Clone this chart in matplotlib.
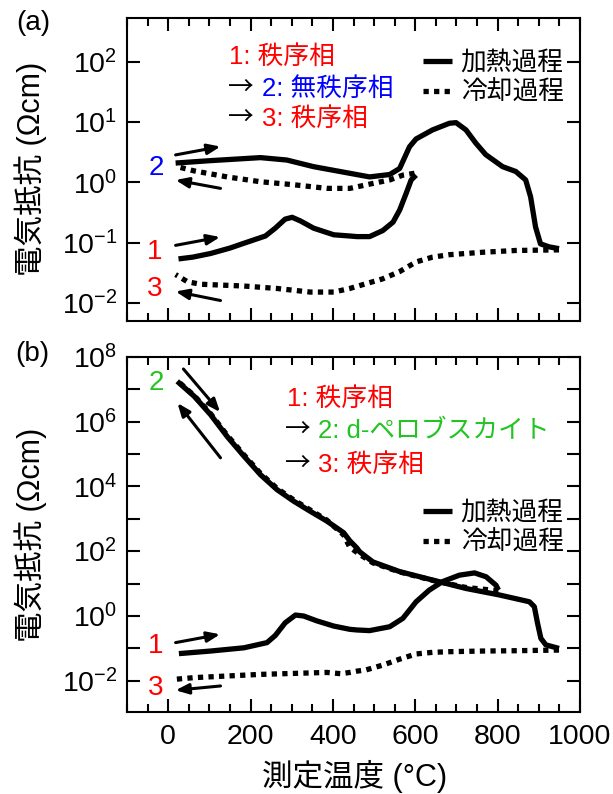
import numpy as np
import matplotlib
matplotlib.use("Agg")
import matplotlib.pyplot as plt
from matplotlib.ticker import MultipleLocator, FixedLocator, FixedFormatter, NullLocator

plt.rcParams['font.family'] = ['Liberation Sans', 'Noto Sans CJK JP']
plt.rcParams['axes.linewidth'] = 1.5

RED = '#FF0000'
BLUE = '#0000FF'
GREEN = '#22C422'

# ---- panel (a): temperature (°C) and log10 resistance (Ωcm) ----
a_heat1_T = [25, 60, 103, 150, 184, 236, 260, 284, 301, 321, 353, 402, 441, 458, 489, 521, 546, 562, 578, 590, 602]
a_heat1_logR = [-1.27, -1.24, -1.18, -1.09, -1.01, -0.89, -0.76, -0.61, -0.58, -0.64, -0.76, -0.87,
                -0.89, -0.90, -0.90, -0.80, -0.66, -0.46, -0.18, 0.04, 0.12]

a_cool2_T = [598, 570, 538, 489, 441, 385, 305, 224, 143, 63, 22]
a_cool2_logR = [0.15, 0.12, 0.04, -0.03, -0.10, -0.10, -0.04, 0.01, 0.09, 0.19, 0.26]

a_heat2_T = [18, 103, 224, 288, 353, 441, 489, 538, 562, 586, 602, 642, 683, 699, 723, 747, 771,
             812, 844, 868, 880, 892, 904, 925, 949]
a_heat2_logR = [0.32, 0.36, 0.41, 0.37, 0.26, 0.15, 0.09, 0.13, 0.23, 0.59, 0.72, 0.87, 0.98, 0.99,
                0.87, 0.65, 0.46, 0.26, 0.18, 0.04, -0.24, -0.74, -1.02, -1.07, -1.10]

a_cool3_T = [949, 844, 763, 683, 642, 602, 562, 521, 481, 441, 402, 345, 264, 184, 79, 47, 18]
a_cool3_logR = [-1.12, -1.13, -1.16, -1.20, -1.24, -1.32, -1.48, -1.60, -1.68, -1.76, -1.82, -1.82,
                -1.76, -1.72, -1.69, -1.65, -1.53]

# ---- panel (b) ----
b_heat1_T = [26, 103, 184, 240, 260, 284, 309, 329, 361, 402, 441, 458, 489, 538, 570, 602, 634,
             666, 707, 744, 772, 796, 802]
b_heat1_logR = [-1.16, -1.08, -0.98, -0.82, -0.60, -0.21, 0.03, 0.00, -0.15, -0.31, -0.41, -0.43,
                -0.45, -0.33, -0.07, 0.44, 0.80, 1.06, 1.26, 1.33, 1.21, 0.95, 0.80]

b_cool2_T = [802, 723, 642, 562, 497, 465, 441, 426, 385, 345, 305, 264, 224, 184, 143, 103, 63, 22]
b_cool2_logR = [0.78, 0.88, 1.10, 1.36, 1.64, 1.90, 2.12, 2.50, 2.96, 3.27, 3.58, 3.94, 4.40, 4.97,
                5.58, 6.24, 6.80, 7.26]

b_heat2_T = [22, 63, 103, 143, 184, 224, 264, 305, 345, 385, 426, 441, 458, 465, 497, 562, 642, 723,
             804, 877, 889, 897, 905, 917, 949]
b_heat2_logR = [7.24, 6.78, 6.21, 5.54, 4.93, 4.36, 3.90, 3.54, 3.23, 2.93, 2.57, 2.32, 2.10, 1.98,
                1.67, 1.37, 1.11, 0.85, 0.65, 0.44, 0.29, -0.23, -0.69, -0.89, -1.00]

b_cool3_T = [949, 844, 763, 683, 642, 602, 562, 522, 481, 458, 441, 420, 385, 305, 224, 143, 63, 18]
b_cool3_logR = [-1.05, -1.07, -1.08, -1.10, -1.12, -1.17, -1.33, -1.51, -1.66, -1.70, -1.74, -1.78,
                -1.74, -1.77, -1.80, -1.85, -1.90, -1.95]

xticks = [0, 200, 400, 600, 800, 1000]
a_yexp = [-2, -1, 0, 1, 2]
b_yexp = list(range(-2, 9))
b_ylabeled = [-2, 0, 2, 4, 6, 8]

fig = plt.figure(figsize=(6.13, 7.94), dpi=100)
ax_a = fig.add_axes([0.2072, 0.5957, 0.739, 0.3812])
ax_b = fig.add_axes([0.2072, 0.1037, 0.739, 0.4471])

solid = dict(color='black', lw=3.8, solid_capstyle='butt', solid_joinstyle='round')
dotted = dict(color='black', lw=3.8, linestyle=(0, (1, 1)))
cjk = ['Noto Sans CJK JP']


def R(v):
    return 10.0 ** np.asarray(v)


def style(ax, ylim, exps, labeled, show_x):
    ax.set_xlim(-100, 1000)
    ax.set_yscale('log')
    ax.set_ylim(*ylim)
    ax.xaxis.set_major_locator(FixedLocator(xticks))
    ax.xaxis.set_minor_locator(MultipleLocator(50))
    ax.yaxis.set_major_locator(FixedLocator([10.0 ** e for e in exps]))
    ax.yaxis.set_minor_locator(NullLocator())
    ax.yaxis.set_major_formatter(FixedFormatter(
        [r'$\mathregular{10^{%d}}$' % e if e in labeled else '' for e in exps]))
    ax.tick_params(which='both', direction='in', top=True, right=True, width=1.5,
                   labelsize=20.5, pad=7)
    ax.tick_params(which='major', length=9.5)
    ax.tick_params(which='minor', length=5.5)
    ax.tick_params(axis='x', labelbottom=show_x, pad=9)


def arrow(ax, start, end):
    ax.annotate('', xy=end, xytext=start,
                arrowprops=dict(arrowstyle='-|>,head_length=0.55,head_width=0.22',
                                mutation_scale=14, lw=2.2, color='black',
                                shrinkA=0, shrinkB=0))


def block(ax, x0, x1, ys, texts, colors):
    # first line plain, later lines preceded by a black arrow
    for i, (y, t, c) in enumerate(zip(ys, texts, colors)):
        if i == 0:
            ax.text(x0 + 0.004, y, t, color=c, fontsize=18.5, transform=ax.transAxes, va='center')
        else:
            ax.text(x0, y, '→', color='black', fontsize=18.5, family=cjk,
                    transform=ax.transAxes, va='center')
            ax.text(x1, y, t, color=c, fontsize=18.5, transform=ax.transAxes, va='center')


# panel (a)
ax_a.plot(a_heat1_T, R(a_heat1_logR), **solid)
h_heat, = ax_a.plot(a_heat2_T, R(a_heat2_logR), **solid)
ax_a.plot(a_cool2_T, R(a_cool2_logR), **dotted)
h_cool, = ax_a.plot(a_cool3_T, R(a_cool3_logR), **dotted)
style(ax_a, (10 ** -2.3, 10 ** 2.72), a_yexp, a_yexp, False)

arrow(ax_a, (18, 10 ** 0.455), (127, 10 ** 0.593))
arrow(ax_a, (127, 10 ** -0.10), (18, 10 ** 0.038))
arrow(ax_a, (18, 10 ** -1.045), (126, 10 ** -0.907))
arrow(ax_a, (127, 10 ** -1.96), (18, 10 ** -1.81))
ax_a.text(-30, 10 ** 0.233, '2', color=BLUE, fontsize=20, ha='center', va='center')
ax_a.text(-32, 10 ** -1.157, '1', color=RED, fontsize=20, ha='center', va='center')
ax_a.text(-32, 10 ** -1.767, '3', color=RED, fontsize=20, ha='center', va='center')

block(ax_a, 0.222, 0.298, [0.873, 0.766, 0.667],
      ['1: 秩序相', '2: 無秩序相', '3: 秩序相'], [RED, BLUE, RED])

leg_kw = dict(frameon=False, fontsize=18.5, handlelength=1.15, handletextpad=0.32,
              labelspacing=0.22, borderpad=0, borderaxespad=0, loc='upper left')
ax_a.legend([h_heat, h_cool], ['加熱過程', '冷却過程'], bbox_to_anchor=(0.653, 0.893), **leg_kw)

# panel (b)
hb_heat, = ax_b.plot(b_heat1_T, R(b_heat1_logR), **solid)
ax_b.plot(b_heat2_T, R(b_heat2_logR), **solid)
ax_b.plot(b_cool2_T, R(b_cool2_logR), **dotted)
hb_cool, = ax_b.plot(b_cool3_T, R(b_cool3_logR), **dotted)
style(ax_b, (10 ** -2.95, 1e8), b_yexp, b_ylabeled, True)

arrow(ax_b, (37, 10 ** 7.62), (126, 10 ** 6.29))
arrow(ax_b, (127, 10 ** 4.88), (22.5, 10 ** 6.57))
arrow(ax_b, (18, 10 ** -0.82), (126, 10 ** -0.565))
arrow(ax_b, (127, 10 ** -2.157), (18, 10 ** -2.29))
ax_b.text(-30, 10 ** 7.19, '2', color=GREEN, fontsize=20, ha='center', va='center')
ax_b.text(-30, 10 ** -0.92, '1', color=RED, fontsize=20, ha='center', va='center')
ax_b.text(-30, 10 ** -2.21, '3', color=RED, fontsize=20, ha='center', va='center')

block(ax_b, 0.3497, 0.4216, [0.881, 0.790, 0.696],
      ['1: 秩序相', '2: d-ペロブスカイト', '3: 秩序相'], [RED, GREEN, RED])

ax_b.legend([hb_heat, hb_cool], ['加熱過程', '冷却過程'], bbox_to_anchor=(0.653, 0.594), **leg_kw)

# labels
fig.text(33 / 613, 1 - 23 / 794, '(a)', fontsize=20, ha='center', va='center')
fig.text(32 / 613, 1 - 354 / 794, '(b)', fontsize=20, ha='center', va='center')
fig.text(31 / 613, 1 - 169 / 794, '電気抵抗 (Ωcm)', fontsize=22, rotation=90, ha='center', va='center')
fig.text(31 / 613, 1 - 535 / 794, '電気抵抗 (Ωcm)', fontsize=22, rotation=90, ha='center', va='center')
fig.text(355 / 613, 1 - 776 / 794, '測定温度 (°C)', fontsize=22, ha='center', va='center')

fig.savefig('out.png', dpi=100)
